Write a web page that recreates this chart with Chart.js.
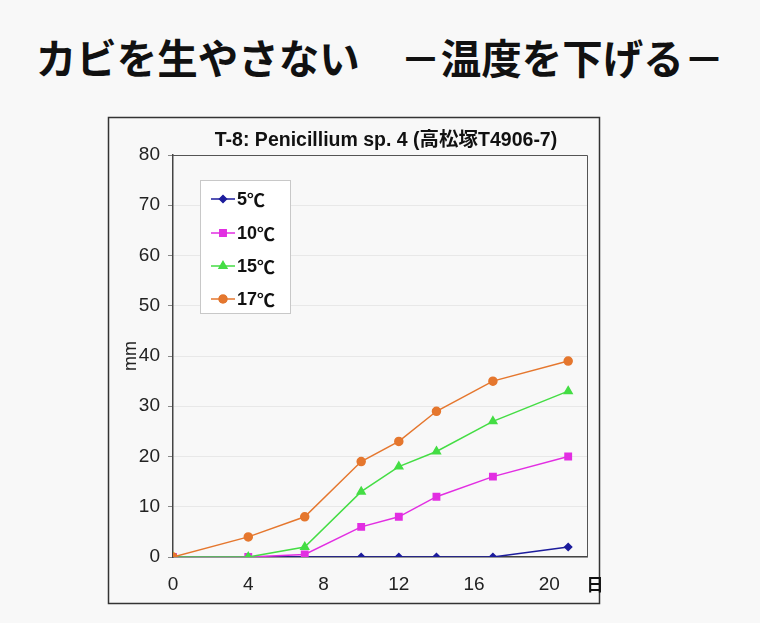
<!DOCTYPE html>
<html><head><meta charset="utf-8">
<script src="https://cdn.jsdelivr.net/npm/chart.js@4"></script>
<style>
html,body{margin:0;padding:0;background:#f8f8f8;width:760px;height:623px;overflow:hidden;}
#title{position:absolute;left:0;top:29px;width:760px;text-align:center;font-family:"Noto Sans CJK JP",sans-serif;font-weight:bold;font-size:40.5px;line-height:56px;color:#111;margin:0;white-space:pre;}
canvas{position:absolute;left:0;top:0;}
</style></head>
<body>
<h1 id="title">カビを生やさない　－温度を下げる－</h1>
<canvas id="c" width="760" height="623"></canvas>
<script>
const mainTitle = "カビを生やさない　－温度を下げる－";
const chartTitle = "T-8: Penicillium sp. 4 (高松塚T4906-7)";
const days = [0, 4, 7, 10, 12, 14, 17, 21];
const seriesNames = ["5℃", "10℃", "15℃", "17℃"];
const t5  = [0, 0, 0,   0,  0,  0,  0,  2];
const t10 = [0, 0, 0.5, 6,  8,  12, 16, 20];
const t15 = [0, 0, 2,   13, 18, 21, 27, 33];
const t17 = [0, 4, 8,   19, 23, 29, 35, 39];
const xTicks = [0, 4, 8, 12, 16, 20];
const yAxisLabel = "mm";
const xAxisLabel = "日";

const colors = ["#1c1c9c", "#e22ee2", "#44dd44", "#e5772e"];
const markers = ["rectRot", "rect", "triangle", "circle"];
const radii = [3.5, 4.5, 4.5, 4];
const values = [t5, t10, t15, t17];

const datasets = values.map((v, i) => ({
  label: seriesNames[i],
  data: days.map((d, j) => ({x: d, y: v[j]})),
  borderColor: colors[i],
  backgroundColor: colors[i],
  pointBackgroundColor: colors[i],
  pointBorderColor: colors[i],
  pointStyle: markers[i],
  pointRadius: radii[i],
  borderWidth: 1.5,
  tension: 0,
  order: 3 - i
}));

const deco = {
  id: 'deco',
  beforeDraw(chart) {
    const ctx = chart.ctx;
    ctx.save();
    ctx.strokeStyle = '#333';
    ctx.lineWidth = 1.5;
    ctx.strokeRect(108.5, 117.5, 491, 486);
    ctx.restore();
  },
  afterDatasetsDraw(chart) {
    const ctx = chart.ctx, a = chart.chartArea;
    ctx.save();
    ctx.strokeStyle = '#555';
    ctx.lineWidth = 1;
    ctx.beginPath();
    ctx.moveTo(a.left, a.top + 0.5); ctx.lineTo(a.right + 0.5, a.top + 0.5); ctx.lineTo(a.right + 0.5, a.bottom);
    ctx.stroke();
    // chart title
    ctx.fillStyle = '#111';
    ctx.font = 'bold 19.5px "Liberation Sans", Arial, "Noto Sans CJK JP", sans-serif';
    ctx.textAlign = 'center';
    ctx.textBaseline = 'middle';
    ctx.fillText(chartTitle, 386, 141);
    // axis labels
    ctx.fillStyle = '#222';
    ctx.font = '18px "Liberation Sans", Arial, sans-serif';
    ctx.save();
    ctx.translate(131, 356);
    ctx.rotate(-Math.PI / 2);
    ctx.fillText(yAxisLabel, 0, 0);
    ctx.restore();
    ctx.fillStyle = '#111';
    ctx.font = 'bold 17px "Noto Sans CJK JP", sans-serif';
    ctx.fillText(xAxisLabel, 595, 585);
    // legend
    const lx = 200.5, ly = 180.5, lw = 90, lh = 133;
    ctx.fillStyle = '#ffffff';
    ctx.fillRect(lx, ly, lw, lh);
    ctx.strokeStyle = '#c8c8c8';
    ctx.lineWidth = 1;
    ctx.strokeRect(lx, ly, lw, lh);
    const rows = [199, 233, 266, 299];
    chart.data.datasets.forEach((ds, i) => {
      const y = rows[i];
      ctx.strokeStyle = ds.borderColor;
      ctx.lineWidth = 1.5;
      ctx.beginPath(); ctx.moveTo(211, y); ctx.lineTo(235, y); ctx.stroke();
      Chart.helpers.drawPoint(ctx, {pointStyle: ds.pointStyle, radius: ds.pointRadius, rotation: 0, borderWidth: 1}, 223, y);
      ctx.fillStyle = ds.borderColor;
      ctx.fill();
      ctx.fillStyle = '#111';
      ctx.textAlign = 'left';
      const num = ds.label.slice(0, -1), unit = ds.label.slice(-1);
      ctx.font = 'bold 18px "Liberation Sans", Arial, sans-serif';
      ctx.fillText(num, 237, y + 1);
      const w = ctx.measureText(num).width;
      ctx.font = 'bold 18px "Noto Sans CJK JP", sans-serif';
      ctx.fillText(unit, 237 + w, y + 1);
    });
    ctx.restore();
  }
};

new Chart(document.getElementById('c'), {
  type: 'line',
  data: {datasets},
  plugins: [deco],
  options: {
    responsive: false,
    animation: false,
    layout: {padding: {top: 155, right: 173, bottom: 0, left: 0}},
    plugins: {legend: {display: false}, tooltip: {enabled: false}, title: {display: false}},
    scales: {
      x: {
        type: 'linear', min: 0, max: 22,
        afterBuildTicks: s => { s.ticks = xTicks.map(v => ({value: v})); },
        afterFit: s => { s.height = 66; },
        grid: {display: true, drawOnChartArea: false, tickLength: 0},
        border: {color: '#444', width: 1.5},
        ticks: {padding: 16, font: {size: 19, family: '"Liberation Sans", Arial, sans-serif'}, color: '#222', maxRotation: 0}
      },
      y: {
        min: 0, max: 80,
        ticks: {stepSize: 10, padding: 8, font: {size: 19, family: '"Liberation Sans", Arial, sans-serif'}, color: '#222'},
        afterFit: s => { s.width = 173; },
        grid: {color: '#e8e8e8', tickLength: 5, tickColor: '#888'},
        border: {color: '#444', width: 1.5}
      }
    }
  }
});
</script>
</body></html>
